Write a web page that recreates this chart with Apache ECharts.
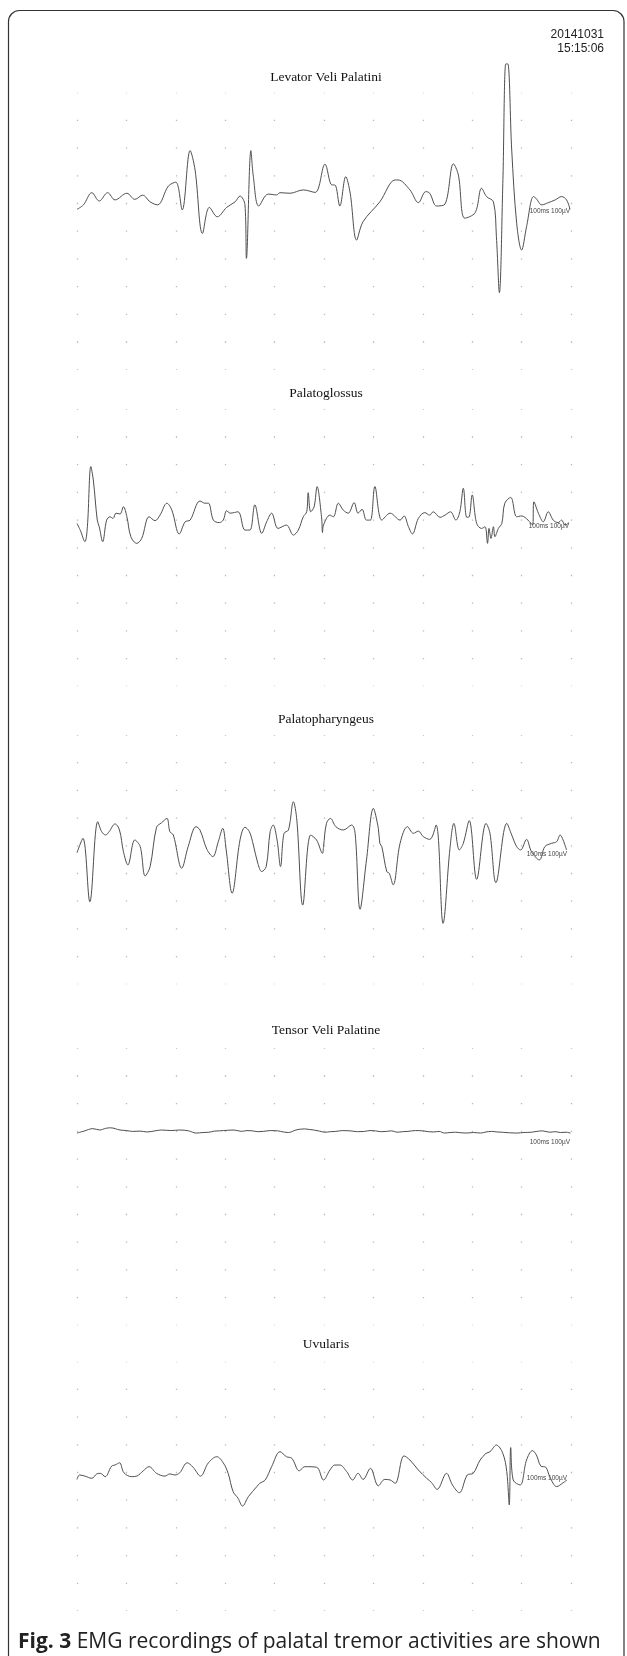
<!DOCTYPE html>
<html><head><meta charset="utf-8">
<script src="https://cdn.jsdelivr.net/npm/echarts@6/dist/echarts.min.js"></script>
<style>html,body{margin:0;padding:0;background:#fff}#c{width:627px;height:1656px}</style>
</head><body><div id="c"></div>
<script>
// ---------- data ----------
const panelNames = ['Levator Veli Palatini','Palatoglossus','Palatopharyngeus','Tensor Veli Palatine','Uvularis'];
const timeTicksMs = [0,100,200,300,400,500,600,700,800,900,1000];
const scaleLabel = '100ms 100\u00b5V';
const stampDate = '20141031';
const stampTime = '15:15:06';
const captionBold = 'Fig. 3';
const captionText = ' EMG recordings of palatal tremor activities are shown';

// [time ms, amplitude µV]
const levatorVeliPalatini = [[0,-21],[13,-5],[30,39],[45,9],[62,39],[77,13],[101,37],[117,15],[133,30],[148,6],[163,-5],[185,63],[200,77],[213,-23],[229,191],[239,121],[254,-108],[268,-14],[284,-48],[303,-14],[320,6],[330,27],[340,-5],[343,-198],[352,191],[357,97],[368,-9],[387,34],[404,31],[411,39],[431,37],[458,49],[482,40],[502,142],[516,67],[522,67],[532,-9],[544,97],[553,37],[566,-132],[579,-66],[613,6],[644,85],[650,85],[674,49],[691,3],[706,43],[714,37],[728,-9],[745,-2],[762,143],[772,103],[785,-53],[806,-33],[819,55],[829,25],[843,6],[849,-120],[855,-322],[862,73],[868,504],[872,504],[880,193],[890,-71],[900,-168],[910,-84],[924,25],[929,19],[941,-5],[954,3],[968,13],[981,25],[991,13],[998,-21]];
const palatoglossus = [[0,-12],[7,-38],[16,-78],[21,-24],[28,193],[33,145],[41,0],[45,-24],[52,-78],[60,0],[67,12],[73,6],[79,25],[87,22],[94,48],[101,12],[109,-60],[121,-84],[131,-66],[146,12],[158,-2],[168,18],[182,61],[192,36],[207,-50],[219,-6],[229,0],[249,69],[259,61],[266,61],[276,0],[288,-9],[296,0],[303,34],[310,25],[326,30],[340,-36],[350,-36],[360,55],[374,-48],[384,-6],[394,25],[407,-30],[424,-18],[438,-54],[448,-36],[458,12],[465,30],[468,99],[473,30],[480,48],[486,121],[495,12],[497,-45],[499,-18],[512,18],[519,12],[529,61],[539,36],[549,25],[561,63],[569,25],[577,39],[586,0],[594,0],[603,121],[617,0],[634,25],[654,0],[662,15],[671,-24],[679,-50],[691,6],[704,27],[714,18],[721,30],[735,10],[745,18],[756,30],[767,0],[775,30],[782,115],[789,10],[794,12],[800,91],[809,-12],[819,-30],[826,-24],[831,-84],[834,-30],[838,-66],[843,-24],[846,-60],[853,-30],[860,-12],[866,61],[878,82],[890,12],[900,15],[913,0],[922,-18],[925,66],[934,25],[944,-6],[954,30],[964,0],[974,-9],[981,0],[988,-18],[996,-9]];
const palatopharyngeus = [[0,-25],[12,27],[26,-202],[42,87],[50,51],[58,39],[65,51],[77,79],[86,57],[94,-21],[103,-69],[117,21],[128,-3],[138,-109],[148,-75],[161,67],[171,83],[182,99],[188,51],[195,39],[212,-81],[225,-3],[241,69],[249,57],[263,-13],[275,-39],[286,15],[295,63],[302,-15],[314,-171],[330,21],[340,67],[349,51],[357,3],[366,-63],[374,-93],[383,-75],[391,51],[397,75],[405,21],[412,-75],[419,45],[428,57],[438,159],[445,93],[457,-214],[473,39],[485,21],[497,-27],[499,-3],[505,81],[513,99],[524,69],[539,57],[556,75],[563,45],[573,-229],[586,-51],[600,135],[610,63],[613,9],[617,-3],[627,-93],[632,-99],[640,-141],[654,9],[669,69],[681,45],[691,53],[701,33],[714,23],[727,75],[741,-280],[755,-9],[763,81],[774,-15],[782,9],[794,91],[809,-121],[828,81],[836,45],[848,-133],[870,81],[880,39],[890,-3],[898,-15],[910,23],[920,-21],[936,-51],[947,-3],[961,9],[971,15],[978,39],[984,21],[991,-15]];
const tensorVeliPalatine = [[0,-6],[14,1],[32,10],[46,5],[58,11],[68,13],[87,5],[100,3],[112,0],[128,1],[142,-2],[158,2],[171,5],[190,3],[208,5],[226,2],[241,-6],[255,-4],[267,-3],[278,1],[289,2],[304,4],[318,5],[333,0],[344,3],[355,2],[366,-1],[377,0],[392,3],[406,2],[418,-2],[428,-4],[443,5],[452,8],[461,9],[470,7],[479,5],[491,1],[502,-3],[513,-1],[524,0],[538,3],[553,2],[568,-1],[582,0],[593,3],[604,2],[615,-1],[626,0],[637,2],[648,-3],[659,-1],[670,0],[685,3],[700,2],[711,-1],[722,-2],[733,0],[744,-6],[755,-4],[766,-3],[777,-5],[788,-6],[803,-4],[817,-6],[828,-2],[839,0],[850,-2],[861,-3],[875,-5],[890,-6],[905,-4],[920,-3],[931,0],[942,2],[957,-3],[968,-1],[979,-4],[990,-3],[999,-6]];
const uvularis = [[0,-25],[5,-9],[16,-13],[30,-21],[40,-5],[47,-3],[57,-15],[70,23],[77,27],[86,35],[95,-1],[111,-15],[121,-13],[134,6],[146,21],[161,-3],[178,-13],[188,-5],[198,-9],[208,-1],[223,35],[235,19],[250,-13],[266,35],[283,57],[296,35],[306,-3],[316,-69],[326,-93],[335,-121],[347,-87],[364,-51],[370,-39],[381,-27],[394,21],[411,75],[424,57],[435,51],[450,6],[461,21],[485,19],[499,-27],[512,9],[522,27],[532,27],[546,3],[558,-27],[569,-3],[579,-25],[594,15],[610,-48],[623,-25],[634,-27],[644,-39],[662,60],[674,45],[691,9],[708,-21],[718,-37],[729,-61],[748,-3],[760,-45],[774,-73],[790,-9],[802,-3],[816,45],[828,69],[836,75],[849,99],[862,69],[870,3],[875,-117],[878,90],[883,-27],[897,-45],[910,45],[922,79],[930,63],[939,23],[949,19],[957,-15],[971,-51],[984,-37],[992,-27]];
const traces = [levatorVeliPalatini, palatoglossus, palatopharyngeus, tensorVeliPalatine, uvularis];
// amplitude range of each panel's dot grid (µV), 100 µV per dot row
const panelMaxUv = [400,400,400,300,400];
const panelMinUv = [-600,-600,-500,-700,-500];

// ---------- layout / style ----------
const firstRowPx = [92.7, 409.3, 735, 1048.3, 1361.7];
const rowPx = 27.7;
const gridLeft = 77, gridRight = 56;
const traceColor = '#4f4f4f';
const dotColor = '#b8b8b8';
const dotLen = 1.3;

const chart = echarts.init(document.getElementById('c'), null, {renderer:'canvas', width:627, height:1656});

const grids = [], xAxes = [], yAxes = [], series = [], graphics = [];
traces.forEach((data, i) => {
  const rows = (panelMaxUv[i] - panelMinUv[i]) / 100;
  grids.push({left:gridLeft, right:gridRight, top:firstRowPx[i], height:rows*rowPx, containLabel:false});
  xAxes.push({type:'value', gridIndex:i, min:timeTicksMs[0], max:timeTicksMs[timeTicksMs.length-1], interval:100,
    axisLine:{show:false}, axisTick:{show:false}, axisLabel:{show:false},
    splitLine:{show:true, showMinLine:true, showMaxLine:true, lineStyle:{color:dotColor, width:1.3, type:[dotLen, rowPx-dotLen], dashOffset:dotLen/2}}});
  yAxes.push({type:'value', gridIndex:i, min:panelMinUv[i], max:panelMaxUv[i], interval:100,
    axisLine:{show:false}, axisTick:{show:false}, axisLabel:{show:false}, splitLine:{show:false}});
  series.push({type:'line', xAxisIndex:i, yAxisIndex:i, data:data, showSymbol:false, smooth:0.35, clip:false,
    lineStyle:{color:traceColor, width:1}, silent:true, animation:false});
});

const titleY = [77, 393.3, 719.3, 1030, 1344];
panelNames.forEach((n, i) => {
  graphics.push({type:'text', x:326, y:titleY[i], style:{text:n, font:'13.5px "Liberation Serif", serif', fill:'#111', align:'center', verticalAlign:'middle'}});
});
const labelPos = [[570,211],[569,526],[567,854],[570,1142],[567,1478]];
labelPos.forEach(p => {
  graphics.push({type:'text', x:p[0], y:p[1], style:{text:scaleLabel, font:'6.5px "Liberation Sans", sans-serif', fill:'#444', align:'right', verticalAlign:'middle'}});
});
graphics.push({type:'text', x:604, y:35, style:{text:stampDate, font:'12px "Liberation Sans", sans-serif', fill:'#222', align:'right', verticalAlign:'middle'}});
graphics.push({type:'text', x:604, y:49, style:{text:stampTime, font:'12px "Liberation Sans", sans-serif', fill:'#222', align:'right', verticalAlign:'middle'}});
graphics.push({type:'rect', shape:{x:8.5, y:10.5, width:615.5, height:1700, r:11}, style:{fill:'none', stroke:'#333', lineWidth:1.2}, z:-1});
graphics.push({type:'text', x:18, y:1642, style:{text:'{b|'+captionBold+'}'+captionText, font:'21px "Open Sans", sans-serif', fill:'#222', verticalAlign:'middle',
  rich:{b:{fontWeight:'bold', fontSize:21, fontFamily:'Open Sans'}}}});

chart.setOption({animation:false, backgroundColor:'#fff', grid:grids, xAxis:xAxes, yAxis:yAxes, series:series, graphic:graphics});
</script></body></html>
